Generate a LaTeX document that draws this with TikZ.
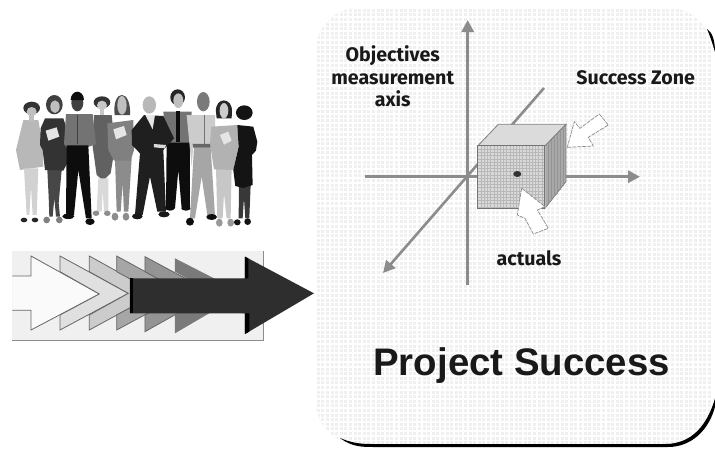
\documentclass[tikz,border=0pt]{standalone}
\usepackage{fontspec}
\setmainfont{Liberation Sans}
\newfontfamily\handfont{Fira Sans}
\usetikzlibrary{arrows.meta}
\definecolor{axisgray}{HTML}{8C8C8C}
\tikzset{
  hand/.style={font=\handfont\bfseries\fontsize{19.6}{21}\selectfont,text=black!90,inner sep=0pt,anchor=base},
  axisline/.style={draw=axisgray,line width=3pt,-{Triangle[length=12pt,width=12pt]}},
  chev/.style={draw=black!60,line width=0.8pt},
  pointer/.style={fill=white,draw=black!45,line width=0.7pt,dash pattern=on 4pt off 1pt},
  shoe/.style={fill=black!85}
}
\begin{document}
\begin{tikzpicture}[x=1pt,y=-1pt]
\useasboundingbox[fill=white] (0,0) rectangle (715,448);
% ---- people
\begin{scope}[shift={(0,70)},x=0.3333pt,y=-0.3333pt]
 % fig 1
 \fill[black!28] (70,150)--(115,150)--(128,225)--(130,290)--(60,300)--(48,240)--cycle;
 \fill[black!18] (72,295)--(115,295)--(110,435)--(98,435)--(93,350)--(88,435)--(80,435)--cycle;
 \fill[black!80] (95,114) ellipse (25 and 19);
 \fill[black!25] (95,125) ellipse (15 and 14);
 \fill[black!25] (88,135) rectangle (102,152);
 \fill[shoe] (72,450) ellipse (10 and 7) (105,450) ellipse (10 and 7);
 % fig 4
 \fill[black!62] (282,135)--(335,135)--(345,230)--(332,310)--(310,332)--(290,315)--(278,230)--cycle;
 \fill[black!15] (295,325)--(325,325)--(325,425)--(312,425)--(308,360)--(305,425)--(290,425)--cycle;
 \fill[black!80] (306,97) ellipse (25 and 18);
 \fill[black!22] (306,106) ellipse (15 and 14);
 \fill[black!22] (299,116) rectangle (313,136);
 \fill[black!45] (288,430) ellipse (10 and 8) (322,430) ellipse (10 and 8);
 % fig 2
 \fill[black!72] (142,300)--(185,300)--(176,400)--(180,440)--(168,440)--(163,385)--(158,440)--(148,440)--(146,380)--cycle;
 \fill[black!80] (135,145)--(190,145)--(205,190)--(207,270)--(190,302)--(135,300)--(128,240)--(120,225)--(122,175)--cycle;
 \fill[black!75] (163,104) ellipse (25 and 29);
 \fill[black!25] (165,110) ellipse (14 and 19);
 \fill[white!90!black] (137,182)--(170,172)--(178,200)--(145,212)--cycle;
 \fill[black!50] (140,450) ellipse (10 and 10) (178,450) ellipse (10 and 10);
 % fig 7
 \fill[black!55] (490,125)--(575,125)--(570,222)--(500,222)--cycle;
 \fill[black!95] (500,218)--(570,218)--(570,415)--(545,415)--(535,300)--(525,415)--(498,415)--cycle;
 \fill[black!95] (527,122)--(540,122)--(540,215)--(527,215)--cycle;
 \fill[black!85] (533,82) ellipse (22 and 24);
 \fill[black!25] (535,92) ellipse (15 and 22);
 \fill[black!95] (510,415) ellipse (14 and 7) (558,415) ellipse (14 and 7);
 % fig 3
 \fill[black!55] (198,132)--(278,132)--(288,222)--(262,232)--(200,232)--(192,222)--cycle;
 \fill[black!95] (200,226)--(265,226)--(275,445)--(258,445)--(235,300)--(222,435)--(198,435)--cycle;
 \fill[black!75] (232,98) ellipse (18 and 26);
 \fill[black!95] (212,90) arc (180:360:20 and 25) -- cycle;
 \draw[black!75,line width=0.8pt] (232,135)--(232,222);
 \fill[black!95] (205,439) ellipse (18 and 8) (270,455) ellipse (14 and 10);
 % fig 5
 \fill[black!45] (345,265)--(395,265)--(385,425)--(372,425)--(368,340)--(362,425)--(350,425)--cycle;
 \fill[black!50] (322,160)--(400,150)--(402,240)--(392,272)--(342,272)--(325,240)--cycle;
 \fill[black!70] (344,135) .. controls (335,55) and (395,55) .. (390,135) -- cycle;
 \fill[black!25] (366,106) ellipse (14 and 28);
 \fill[white!90!black] (340,178)--(372,168)--(380,195)--(348,208)--cycle;
 \fill[black!45] (345,440) ellipse (10 and 12) (378,440) ellipse (10 and 12);
 % fig 8
 \fill[black!35] (582,232)--(632,232)--(645,435)--(622,435)--(605,320)--(585,445)--(570,445)--cycle;
 \fill[black!20] (560,135)--(645,135)--(648,290)--(632,225)--(580,225)--(575,290)--cycle;
 \fill[black!60] (578,222)--(634,222)--(632,233)--(580,233)--cycle;
 \draw[black!55,line width=0.8pt] (612,135)--(612,222);
 \fill[black!52] (610,95) ellipse (19 and 29);
 \fill[black!95] (570,455) ellipse (12 and 12) (635,441) ellipse (16 and 9);
 % fig 6
 \fill[black!88] (395,180)--(432,135)--(490,138)--(522,205)--(490,240)--(498,425)--(472,425)--(450,320)--(428,435)--(405,435)--(420,250)--(396,225)--cycle;
 \fill[white!90!black] (436,135)--(465,135)--(458,178)--cycle;
 \fill[black!28] (448,105) ellipse (20 and 26);
 \fill[black!90] (412,439) ellipse (16 and 9) (492,433) ellipse (17 and 9);
 \fill[black!15] (462,222)--(498,225)--(495,235)--(462,232)--cycle;
 % fig 9
 \fill[black!22] (648,290)--(695,290)--(692,445)--(680,445)--(672,370)--(668,445)--(652,445)--cycle;
 \fill[black!30] (634,170)--(712,165)--(716,225)--(700,300)--(642,298)--(630,220)--cycle;
 \fill[black!85] (648,125) .. controls (645,80) and (698,80) .. (696,125) -- (695,145) -- (650,145) -- cycle;
 \fill[black!20] (672,122) ellipse (13 and 23);
 \fill[white!90!black] (660,195)--(685,185)--(695,212)--(672,224)--cycle;
 \fill[black!40] (658,458) ellipse (10 and 12) (692,458) ellipse (10 and 12);
 % fig 10
 \fill[black!78] (717,345)--(752,345)--(748,445)--(736,445)--(732,385)--(728,445)--(716,445)--cycle;
 \fill[black!92] (712,165)--(760,170)--(772,215)--(768,242)--(756,255)--(758,345)--(730,354)--(706,348)--(700,300)--(716,230)--cycle;
 \fill[black!92] (733,128) ellipse (25 and 22);
 \fill[black!92] (712,457) ellipse (10 and 9) (743,455) ellipse (10 and 10);
\end{scope}
% ---- arrow strip
\begin{scope}[shift={(0,230)},x=0.3333pt,y=-0.3333pt]
 \fill[black!6] (37,62) rectangle (790,332);
 \draw[black!45,line width=1pt] (37,332)--(790,332)--(790,62);
 \draw[chev,fill=black!2] (37,138)--(93,138)--(93,78)--(298,192)--(93,300)--(93,241)--(37,241);
 \draw[chev,fill=black!12] (180,78)--(385,190)--(180,300)--(180,255)--(298,192)--(180,125)--cycle;
 \draw[chev,fill=black!20] (268,78)--(470,190)--(268,300)--(268,255)--(385,190)--(268,125)--cycle;
 \draw[chev,fill=black!35] (350,78)--(555,190)--(350,300)--(350,255)--(470,190)--(350,125)--cycle;
 \draw[chev,fill=black!42] (435,80)--(640,190)--(435,305)--(435,255)--(555,190)--(435,125)--cycle;
 \fill[black!52] (525,85)--(730,190)--(525,310)--(525,255)--(640,190)--(525,125)--cycle;
 \fill[black!82] (390,145)--(735,145)--(735,80)--(942,190)--(735,312)--(735,250)--(390,250)--cycle;
 \fill[black] (390,145) rectangle (400,250);
 \fill[black] (725,250)--(735,250)--(735,312)--(748,305)--(748,250)--cycle;
 \fill[black] (725,145)--(735,145)--(735,80)--(745,85)--(745,145)--cycle;
\end{scope}
% ---- panel
\begin{scope}
 \clip[rounded corners=42pt] (316,8) rectangle (711,444);
 \fill[black!6] (316,8) rectangle (711,444);
 \foreach \g in {0,...,88} \draw[white,line width=1.5pt] ({316+4.6*\g},8)--({316+4.6*\g},444);
 \foreach \g in {0,...,96} \draw[white,line width=1.5pt] (316,{8+4.6*\g})--(711,{8+4.6*\g});
\end{scope}
% shadow crescents
\fill[black] (340,438) .. controls (352,447) and (362,447) .. (375,447) -- (668,447)
  .. controls (695,447) and (712,425) .. (716,402) -- (716,395)
  .. controls (708,425) and (692,444) .. (665,444) -- (372,444) .. controls (360,444) and (352,443) .. cycle;
\fill[black] (707,29) .. controls (712,32) and (715,40) .. (715,52) .. controls (712,42) and (710,36) .. cycle;
% ---- axes and cube
\coordinate (vb) at (467.7,285); \coordinate (vt) at (467.7,20);
\coordinate (hl) at (365,176.7); \coordinate (hr) at (640,176.7);
\coordinate (dr) at (544,88); \coordinate (dl) at (383,273);
\draw[axisline] (vb)--(vt);
\draw[axisline] (hl)--(hr);
\draw[axisline,line width=2.6pt] (dr)--(dl);
% cube, zoom coordinates
\begin{scope}[shift={(330,30)},x=0.3333pt,y=-0.3333pt]
 \fill[black!14,draw=black!50,line width=0.8pt] (443,348)--(505,283)--(708,283)--(645,348)--cycle;
 \fill[black!34,draw=black!50,line width=0.8pt] (645,348)--(708,283)--(708,455)--(645,535)--cycle;
 \fill[black!15] (443,348) rectangle (645,535);
 \begin{scope}
  \clip (443,283) rectangle (708,535);
  \foreach \g in {1,...,21} \draw[black!28,line width=0.3pt] ({443+9.6*\g},348)--({443+9.6*\g},535);
  \foreach \g in {1,...,19} \draw[black!28,line width=0.3pt] (443,{348+9.6*\g})--(645,{348+9.6*\g});
  \foreach \g in {1,...,7} \draw[black!42,line width=0.25pt] ({645+9*\g},{348-9.3*\g})--({645+9*\g},{535-11*\g});
 \end{scope}
 \draw[black!55,line width=1pt] (443,348) rectangle (645,535);
 \fill[black!80] (562,432) ellipse (12 and 9);
 \path[pointer] (575,475)--(645,530)--(622,540)--(655,595)--(610,612)--(585,565)--(562,555)--cycle;
 \path[pointer] (712,352)--(790,348)--(775,322)--(835,285)--(808,252)--(750,295)--(733,275)--cycle;
\end{scope}
% ---- labels
\node[hand] (objA) at (392.7,61) {Objectives};
\node[hand] (objB) at (392.7,84) {measurement};
\node[hand] (objC) at (392.7,106) {axis};
\node[hand] (zone) at (635.7,84) {Success Zone};
\node[hand] (act) at (529,265) {actuals};
\node[font=\bfseries\fontsize{38.4}{40}\selectfont,text=black!90,inner sep=0pt,anchor=base] (ps) at (521.7,375) {Project Success};
\end{tikzpicture}
\end{document}
